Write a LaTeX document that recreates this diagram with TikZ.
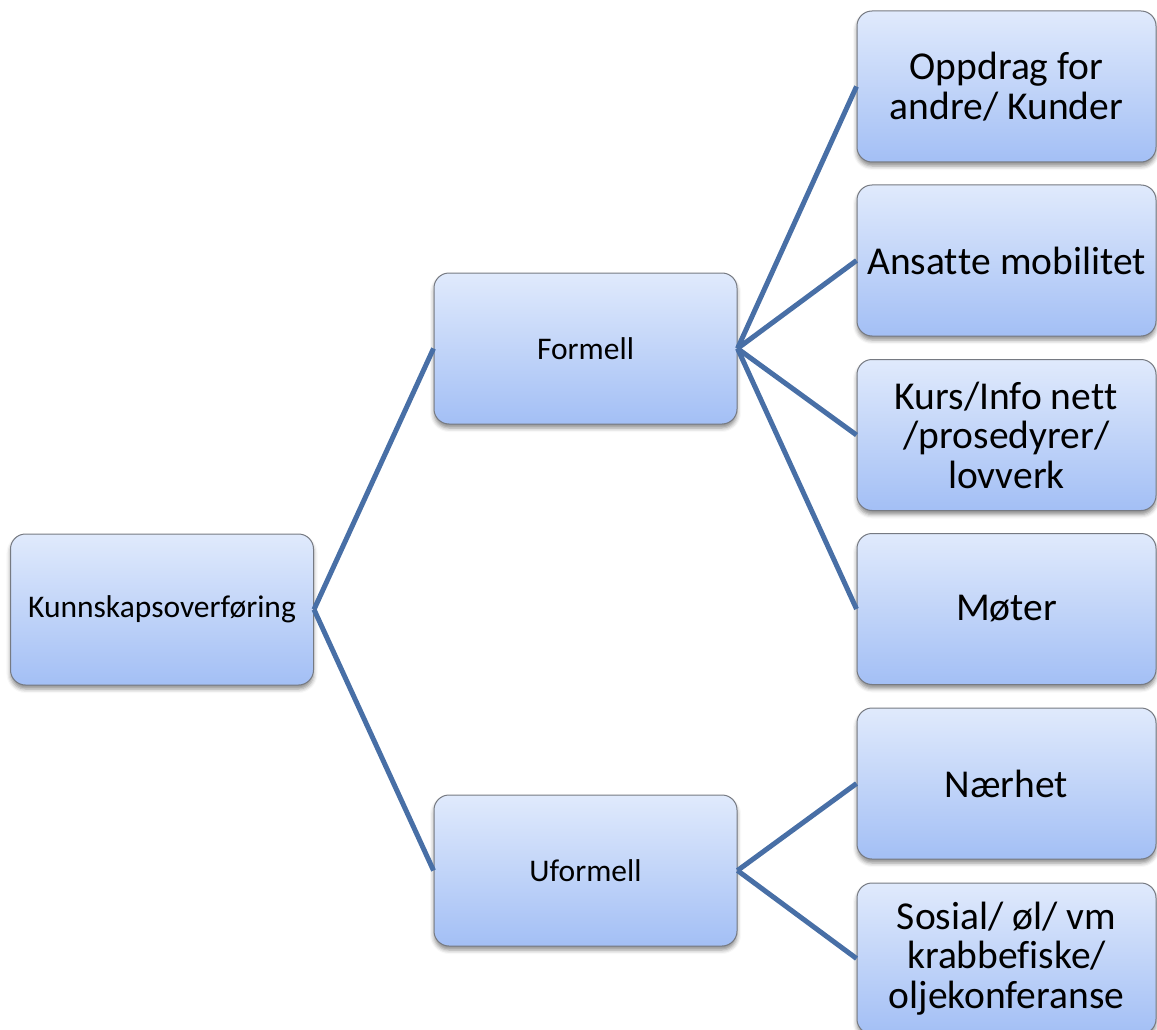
\documentclass[tikz,border=0pt]{standalone}
\usepackage{fontspec}
\setmainfont[RawFeature={-liga;-clig;-calt;-dlig}]{Carlito}
\usetikzlibrary{shadows.blur}

\definecolor{linkblue}{RGB}{72,111,166}
\definecolor{boxtop}{RGB}{224,234,252}
\definecolor{boxbottom}{RGB}{163,191,245}
\definecolor{boxedge}{RGB}{118,122,130}

% keep a double t as two separate letters
\newcommand{\splittt}{t\kern0.6pt t}

\tikzset{
  card/.style={
    draw=boxedge, line width=1pt, rounded corners=15pt,
    top color=boxtop, bottom color=boxbottom,
    inner sep=0pt, align=center,
    blur shadow={shadow xshift=0pt, shadow yshift=-4pt,
                 shadow blur radius=4pt, shadow opacity=45},
  },
  smallcard/.style={card, minimum width=303pt, minimum height=151pt,
    font=\fontsize{31.5}{37}\selectfont},
  bigcard/.style={card, minimum width=299pt, minimum height=151pt,
    font=\fontsize{39.5}{39.5}\selectfont},
  link/.style={draw=linkblue, line width=5pt},
}

\begin{document}
\begin{tikzpicture}[x=1pt, y=-1pt]
  \useasboundingbox (0,0) rectangle (1157,1030);

  % first and second level
  \node[smallcard] (root) at (162,609.5) {Kunnskapsoverføring};
  \node[smallcard] (formell) at (585.5,348.5) {Formell};
  \node[smallcard] (uformell) at (585.5,870.5) {Uformell};

  % leaves
  \node[bigcard] (oppdrag) at (1006.5,86.5) {Oppdrag for\\andre/ Kunder};
  \node[bigcard] (ansatte) at (1006.5,260.5) {Ansa\splittt e mobilitet};
  \node[bigcard] (kurs) at (1006.5,435) {Kurs/Info ne\splittt\\/prosedyrer/\\lovverk};
  \node[bigcard] (moter) at (1006.5,609) {Møter};
  \node[bigcard] (naerhet) at (1006.5,783.5) {Nærhet};
  \node[bigcard] (sosial) at (1006.5,958.5) {Sosial/ øl/ vm\\krabbefiske/\\oljekonferanse};

  % connectors
  \draw[link] (root.east) -- (formell.west);
  \draw[link] (root.east) -- (uformell.west);
  \draw[link] (formell.east) -- (oppdrag.west);
  \draw[link] (formell.east) -- (ansatte.west);
  \draw[link] (formell.east) -- (kurs.west);
  \draw[link] (formell.east) -- (moter.west);
  \draw[link] (uformell.east) -- (naerhet.west);
  \draw[link] (uformell.east) -- (sosial.west);
\end{tikzpicture}
\end{document}
